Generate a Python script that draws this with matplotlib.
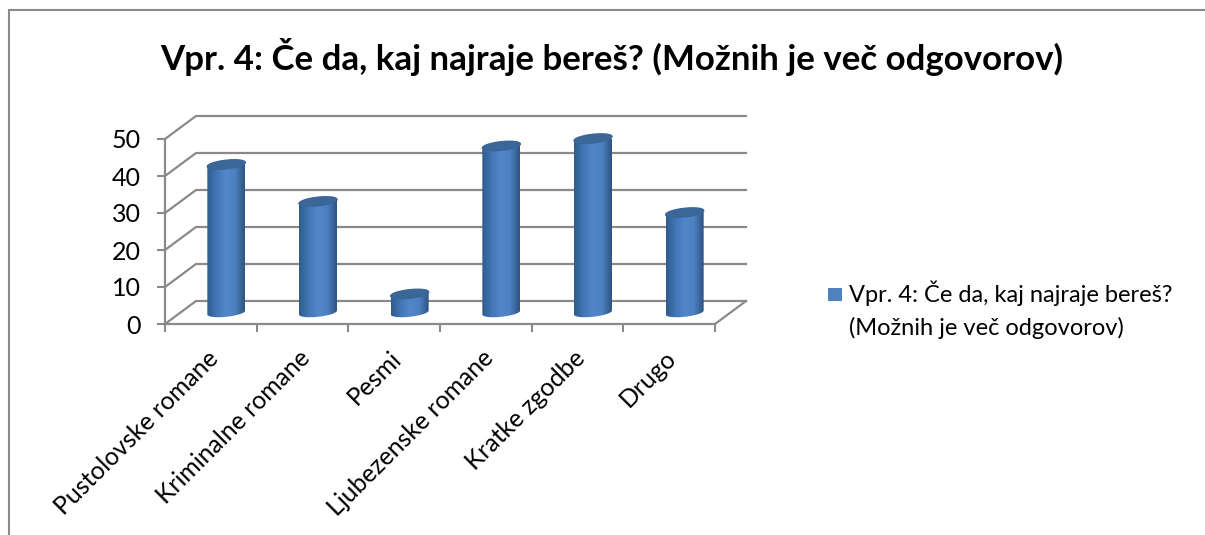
import numpy as np
import matplotlib
matplotlib.use('Agg')
import matplotlib.pyplot as plt
from matplotlib.colors import LinearSegmentedColormap
from matplotlib.lines import Line2D
from matplotlib.patches import PathPatch, Rectangle
from matplotlib.path import Path

plt.rcParams['font.family'] = ['Lato', 'DejaVu Sans']

title = 'Vpr. 4: Če da, kaj najraje bereš? (Možnih je več odgovorov)'
legend_lines = 'Vpr. 4: Če da, kaj najraje bereš?\n(Možnih je več odgovorov)'
categories = ['Pustolovske romane', 'Kriminalne romane', 'Pesmi',
              'Ljubezenske romane', 'Kratke zgodbe', 'Drugo']
values = [40, 30, 5, 45, 47, 27]
y_ticks = [0, 10, 20, 30, 40, 50]

W, H = 1205, 535
# 3d look: how far the back wall is shifted from the front axis, in data units
depth_x = 31 / 91.67
depth_y = 23 / 3.7
# cylinder ellipse size
rx = 19 / 91.67
ry = 4.3 / 3.7
tilt = 2 / 3.7

fig = plt.figure(figsize=(W / 100, H / 100), dpi=100)
ax = fig.add_axes([165 / W, 1 - 324 / H, 550 / W, 185 / H])

grey = '#8a8a8a'
cmap = LinearSegmentedColormap.from_list('cyl', ['#2f5c8f', '#4376b5', '#5187cb', '#4c80c0', '#2e5482'])


def ellipse(cx, cy, t):
    return cx + rx * np.cos(t), cy + ry * np.sin(t) + tilt * np.cos(t)


# back wall and side wall gridlines
for v in y_ticks:
    ax.plot([0, depth_x, 6 + depth_x], [v, v + depth_y, v + depth_y],
            color=grey, lw=1.6, clip_on=False, zorder=1, solid_joinstyle='miter')
ax.plot([6, 6 + depth_x], [0, depth_y], color=grey, lw=1.6, clip_on=False, zorder=1)

# cylinders
for i, val in enumerate(values):
    cx = i + 0.5 + depth_x / 2
    y0 = depth_y / 2
    y1 = val + y0
    t_low = np.linspace(np.pi, 2 * np.pi, 40)
    t_top = np.linspace(0, np.pi, 40)
    xb, yb = ellipse(cx, y0, t_low)
    xt, yt = ellipse(cx, y1, t_top)
    body = Path(np.column_stack([np.r_[xb, xt], np.r_[yb, yt]]))
    grad = np.linspace(0, 1, 64).reshape(1, -1)
    im = ax.imshow(grad, cmap=cmap, aspect='auto', zorder=3,
                   extent=[cx - rx, cx + rx, y0 - 2, y1 + 2])
    clip = PathPatch(body, transform=ax.transData, fc='none', ec='none')
    ax.add_patch(clip)
    im.set_clip_path(clip)
    t = np.linspace(0, 2 * np.pi, 80)
    xe, ye = ellipse(cx, y1, t)
    ax.fill(xe, ye, color='#3a6698', zorder=4, clip_on=False)

ax.set_xlim(0, 6)
ax.set_ylim(0, 50)

for s in ['top', 'right']:
    ax.spines[s].set_visible(False)
for s in ['left', 'bottom']:
    ax.spines[s].set_color(grey)
    ax.spines[s].set_linewidth(1.6)

ax.set_yticks(y_ticks)
ax.set_xticks(range(7))
ax.set_xticklabels([])
ax.tick_params(axis='both', which='major', color=grey, width=1.5, length=5.5)
ax.tick_params(axis='y', labelsize=18, pad=12, labelcolor='black')
# labels sit a little left of the category centre
ax.set_xticks(np.arange(6) + 0.45, minor=True)
ax.set_xticklabels(categories, minor=True, rotation=45, ha='right', va='top',
                   rotation_mode='anchor', fontsize=17.8)
ax.tick_params(axis='x', which='minor', length=0, pad=16)

fig.text(612 / W, 1 - 57 / H, title, ha='center', va='center', fontsize=25.1, fontweight='bold')

# legend
fig.add_artist(Rectangle((828 / W, 1 - 301 / H), 14 / W, 13 / H, transform=fig.transFigure,
                         fc='#4f81bd', ec='none'))
fig.text(849 / W, 1 - 280 / H, legend_lines, ha='left', va='top', fontsize=17, linespacing=1.65)

# chart frame, cut off on right and bottom
fig.add_artist(Line2D([9 / W, 9 / W, 1], [0, 1 - 10 / H, 1 - 10 / H], transform=fig.transFigure,
                      color=grey, lw=1.5, solid_joinstyle='miter'))

fig.savefig('out.png', dpi=100)
